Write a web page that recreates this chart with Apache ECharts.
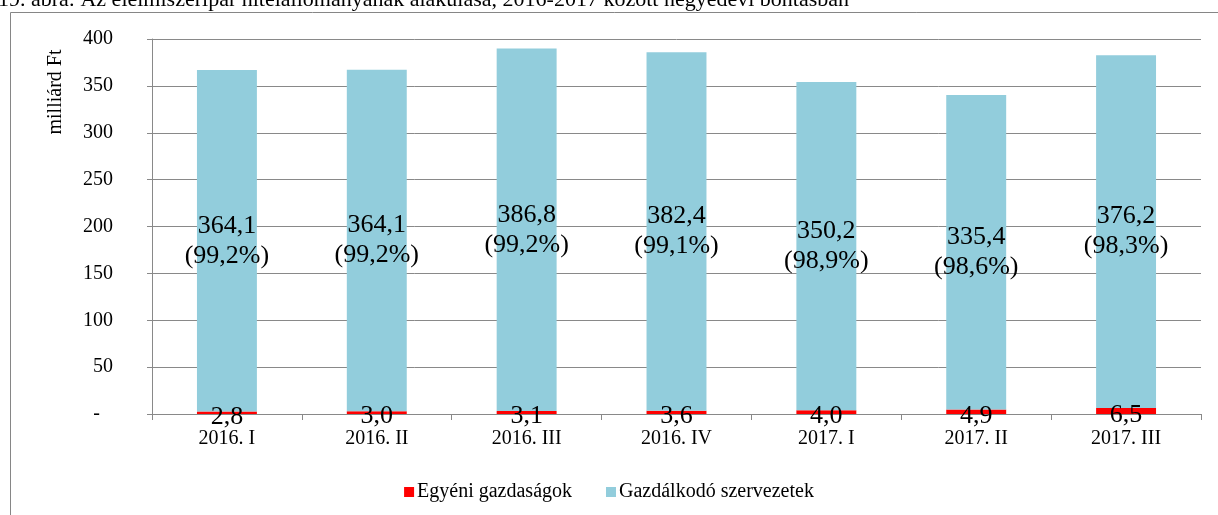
<!DOCTYPE html>
<html><head><meta charset="utf-8">
<script src="https://cdn.jsdelivr.net/npm/echarts@6/dist/echarts.min.js"></script>
<style>html,body{margin:0;padding:0;background:#fff}#c{width:1218px;height:515px}</style>
</head><body><div id="c"></div>
<script>
const categories = ['2016. I','2016. II','2016. III','2016. IV','2017. I','2017. II','2017. III'];
const egyeni = [2.8, 3.0, 3.1, 3.6, 4.0, 4.9, 6.5];
const gazdalkodo = [364.1, 364.1, 386.8, 382.4, 350.2, 335.4, 376.2];
const yTicks = [0, 50, 100, 150, 200, 250, 300, 350, 400];
const seriesNames = ['Egyéni gazdaságok', 'Gazdálkodó szervezetek'];
const titleText = '19. ábra: Az élelmiszeripar hitelállományának alakulása, 2016-2017 között negyedévi bontásban';
const yName = 'milliárd Ft';

const FF = '"Liberation Serif","Times New Roman",serif';
const fmt = v => v.toFixed(1).replace('.', ',');
const chart = echarts.init(document.getElementById('c'));
chart.setOption({
  animation: false,
  backgroundColor: '#fff',
  textStyle: { fontFamily: FF },
  graphic: [
    { type: 'rect', shape: { x: 10.5, y: 12.5, width: 1300, height: 600 }, style: { fill: 'none', stroke: '#868686', lineWidth: 1 }, silent: true },
    { type: 'text', x: -2, y: 0.5, style: { text: titleText, font: '22px ' + FF, fill: '#000', textAlign: 'left', textVerticalAlign: 'middle' } },
    { type: 'text', x: 56, y: 92, rotation: Math.PI / 2, style: { text: yName, font: '20px ' + FF, fill: '#000', textAlign: 'center', textVerticalAlign: 'middle' } }
  ],
  grid: { left: 152, right: 17, top: 39, bottom: 101, containLabel: false },
  legend: {
    top: 477, left: 'center', itemWidth: 10, itemHeight: 10, itemGap: 34, icon: 'rect',
    textStyle: { fontSize: 20, fontFamily: FF, color: '#000', padding: [0, 0, 0, -2] },
    data: seriesNames
  },
  xAxis: {
    type: 'category', data: categories,
    axisLine: { lineStyle: { color: '#898989', width: 1 } },
    axisTick: { show: true, length: 6, lineStyle: { color: '#898989' } },
    axisLabel: { fontSize: 20, fontFamily: FF, color: '#000', margin: 15 }
  },
  yAxis: {
    type: 'value', min: yTicks[0], max: yTicks[yTicks.length - 1], interval: 50,
    axisLine: { show: true, lineStyle: { color: '#898989', width: 1 } },
    axisTick: { show: true, length: 5, lineStyle: { color: '#898989' } },
    splitLine: { lineStyle: { color: '#898989', width: 1 } },
    axisLabel: {
      fontSize: 20, fontFamily: FF, color: '#000', margin: 39,
      formatter: v => v === 0 ? '{d|-}' : String(v),
      rich: { d: { fontSize: 20, fontFamily: FF, color: '#000', padding: [0, 13, 0, 0] } }
    }
  },
  series: [
    {
      name: seriesNames[0], type: 'bar', stack: 'a', data: egyeni, barWidth: '40%',
      itemStyle: { color: '#FF0000' },
      label: { show: true, position: 'inside', offset: [0, 4], fontSize: 26, fontFamily: FF, color: '#000', formatter: p => fmt(p.value) }
    },
    {
      name: seriesNames[1], type: 'bar', stack: 'a', data: gazdalkodo, barWidth: '40%',
      itemStyle: { color: '#92CDDC' },
      label: {
        show: true, position: 'inside', fontSize: 26, fontFamily: FF, color: '#000', lineHeight: 30,
        formatter: p => {
          const tot = p.value + egyeni[p.dataIndex];
          return fmt(p.value) + '\n(' + (p.value / tot * 100).toFixed(1).replace('.', ',') + '%)';
        }
      }
    }
  ]
});
</script></body></html>
